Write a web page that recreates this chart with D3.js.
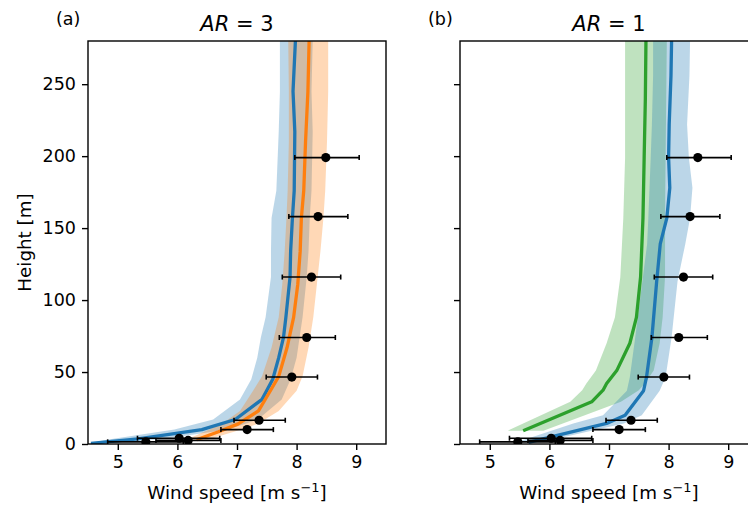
<!DOCTYPE html>
<html>
<head>
<meta charset="utf-8">
<script src="https://cdn.jsdelivr.net/npm/d3@7"></script>
<style>
  body { margin: 0; background: #fff; }
  svg { font-family: "DejaVu Sans", sans-serif; }
</style>
</head>
<body>
<div id="chart"></div>
<script>
// observations (same in both panels)
var obsHeight = [1.5, 2.5, 4, 10, 16.5, 46.5, 74, 116, 158, 199];
var obsSpeed  = [5.47, 6.18, 6.03, 7.17, 7.37, 7.92, 8.17, 8.25, 8.36, 8.49];
var obsLow    = [4.83, 5.64, 5.33, 6.73, 6.95, 7.49, 7.71, 7.76, 7.87, 7.97];
var obsHigh   = [6.10, 6.73, 6.71, 7.61, 7.81, 8.35, 8.65, 8.74, 8.86, 9.05];

// (a) AR = 3, blue run
var a3BlueH  = [0.5, 3.5, 10, 17, 31, 45, 60, 74, 88, 116, 134, 157, 176, 217, 245, 280];
var a3BlueU  = [4.55, 5.34, 6.41, 6.97, 7.42, 7.60, 7.70, 7.78, 7.82, 7.89, 7.90, 7.93, 7.96, 7.97, 7.94, 7.98];
var a3BlueLo = [4.50, 4.90, 5.95, 6.60, 7.05, 7.24, 7.34, 7.40, 7.48, 7.57, 7.57, 7.58, 7.66, 7.70, 7.72, 7.72];
var a3BlueHi = [4.75, 5.75, 6.85, 7.35, 7.75, 7.90, 8.00, 8.05, 8.10, 8.17, 8.20, 8.22, 8.25, 8.27, 8.25, 8.27];

// (a) AR = 3, orange run
var a3OrangeH  = [3, 8.5, 14, 23, 37, 47, 67, 88, 111, 134, 157, 176, 210, 245, 280];
var a3OrangeU  = [6.32, 6.69, 7.02, 7.36, 7.56, 7.70, 7.84, 7.95, 8.02, 8.06, 8.08, 8.12, 8.15, 8.19, 8.21];
var a3OrangeLo = [6.15, 6.45, 6.75, 7.05, 7.27, 7.42, 7.58, 7.70, 7.76, 7.80, 7.83, 7.85, 7.87, 7.87, 7.86];
var a3OrangeHi = [6.50, 6.95, 7.35, 7.70, 8.00, 8.10, 8.20, 8.28, 8.34, 8.40, 8.45, 8.48, 8.51, 8.53, 8.53];

// (b) AR = 1, green run
var a1GreenH  = [9.2, 29.3, 37.4, 42, 51, 70, 88, 116, 157, 199, 240, 280];
var a1GreenU  = [5.56, 6.71, 6.90, 6.96, 7.13, 7.35, 7.46, 7.53, 7.57, 7.59, 7.61, 7.62];
var a1GreenLo = [5.30, 6.35, 6.55, 6.62, 6.78, 6.96, 7.10, 7.19, 7.24, 7.27, 7.27, 7.27];
var a1GreenHi = [5.90, 7.20, 7.50, 7.60, 7.75, 7.85, 7.90, 7.94, 7.94, 7.95, 7.96, 7.97];

// (b) AR = 1, blue run
var a1BlueH  = [1.2, 14.3, 20, 37, 46.6, 74, 113, 139, 157, 178, 199, 222, 256, 280];
var a1BlueU  = [5.65, 6.96, 7.27, 7.58, 7.63, 7.72, 7.80, 7.86, 7.97, 8.02, 8.00, 8.01, 8.04, 8.05];
var a1BlueLo = [5.45, 6.40, 6.90, 7.30, 7.35, 7.44, 7.56, 7.64, 7.66, 7.68, 7.70, 7.72, 7.74, 7.74];
var a1BlueHi = [5.85, 7.25, 7.55, 7.85, 7.95, 8.05, 8.15, 8.28, 8.36, 8.40, 8.34, 8.31, 8.35, 8.36];

var xTicks = [5, 6, 7, 8, 9];
var yTicks = [0, 50, 100, 150, 200, 250];

var blue = "#1f77b4", orange = "#ff7f0e", green = "#2ca02c";

function zipSeries(h, u, lo, hi) {
    return h.map(function (d, i) { return { h: d, u: u[i], lo: lo[i], hi: hi[i] }; });
}

var svg = d3.select("#chart")
    .append("svg")
    .attr("width", 748)
    .attr("height", 505);

var panelW = 298, panelH = 403, panelTop = 41;

var y = d3.scaleLinear().domain([0, 280]).range([panelH, 0]);

function drawPanel(left, id, label, arText, series, showYLabels) {
    var x = d3.scaleLinear().domain([4.5, 9.5]).range([0, panelW]);

    var g = svg.append("g")
        .attr("transform", "translate(" + left + "," + panelTop + ")");

    g.append("clipPath").attr("id", "clip" + id)
        .append("rect").attr("width", panelW).attr("height", panelH);

    var plot = g.append("g").attr("clip-path", "url(#clip" + id + ")");

    var area = d3.area()
        .y(function (d) { return y(d.h); })
        .x0(function (d) { return x(d.lo); })
        .x1(function (d) { return x(d.hi); });

    var line = d3.line()
        .x(function (d) { return x(d.u); })
        .y(function (d) { return y(d.h); });

    // shaded spread first, then the mean lines
    series.forEach(function (s) {
        plot.append("path")
            .datum(s.data)
            .attr("d", area)
            .attr("fill", s.color)
            .attr("fill-opacity", 0.3);
    });
    series.forEach(function (s) {
        plot.append("path")
            .datum(s.data)
            .attr("d", line)
            .attr("fill", "none")
            .attr("stroke", s.color)
            .attr("stroke-width", 3.3)
            .attr("stroke-linejoin", "round");
    });

    // observations with error bars
    var obs = obsHeight.map(function (h, i) {
        return { h: h, u: obsSpeed[i], lo: obsLow[i], hi: obsHigh[i] };
    });
    var og = plot.append("g");
    og.selectAll(".bar").data(obs).enter().append("line")
        .attr("x1", function (d) { return x(d.lo); })
        .attr("x2", function (d) { return x(d.hi); })
        .attr("y1", function (d) { return y(d.h); })
        .attr("y2", function (d) { return y(d.h); })
        .attr("stroke", "black").attr("stroke-width", 1.6);
    ["lo", "hi"].forEach(function (k) {
        og.selectAll(".cap" + k).data(obs).enter().append("line")
            .attr("x1", function (d) { return x(d[k]); })
            .attr("x2", function (d) { return x(d[k]); })
            .attr("y1", function (d) { return y(d.h) - 2.5; })
            .attr("y2", function (d) { return y(d.h) + 2.5; })
            .attr("stroke", "black").attr("stroke-width", 1.6);
    });
    og.selectAll("circle").data(obs).enter().append("circle")
        .attr("cx", function (d) { return x(d.u); })
        .attr("cy", function (d) { return y(d.h); })
        .attr("r", 4.6)
        .attr("fill", "black");

    // axes
    var xAxis = g.append("g")
        .attr("transform", "translate(0," + panelH + ")")
        .call(d3.axisBottom(x).tickValues(xTicks).tickSize(6).tickPadding(6).tickFormat(d3.format("d")));
    var yAxis = g.append("g")
        .call(d3.axisLeft(y).tickValues(yTicks).tickSize(6).tickPadding(6)
            .tickFormat(showYLabels ? d3.format("d") : ""));
    [xAxis, yAxis].forEach(function (a) {
        a.select(".domain").remove();
        a.selectAll(".tick line").attr("stroke", "black").attr("stroke-width", 1.4);
        a.selectAll(".tick text").attr("fill", "black")
            .style("font-size", "17.5px").style("font-family", "DejaVu Sans");
    });

    // frame
    g.append("rect")
        .attr("width", panelW).attr("height", panelH)
        .attr("fill", "none").attr("stroke", "black").attr("stroke-width", 1.4);

    // titles
    var t = g.append("text")
        .attr("x", panelW / 2).attr("y", -10.5)
        .attr("text-anchor", "middle")
        .style("font-size", "21px");
    t.append("tspan").style("font-style", "oblique").text("AR");
    t.append("tspan").text(" = " + arText);

    g.append("text")
        .attr("x", -32).attr("y", -16.5)
        .style("font-size", "17.5px")
        .text(label);

    var xl = g.append("text")
        .attr("x", panelW / 2).attr("y", panelH + 55)
        .attr("text-anchor", "middle")
        .style("font-size", "18.3px");
    xl.append("tspan").text("Wind speed [m s");
    xl.append("tspan").attr("dy", -7).style("font-size", "13px").text("\u22121");
    xl.append("tspan").attr("dy", 7).text("]");

    if (showYLabels) {
        g.append("text")
            .attr("transform", "translate(-57," + (panelH / 2) + ") rotate(-90)")
            .attr("text-anchor", "middle")
            .style("font-size", "18.3px")
            .text("Height [m]");
    }
}

drawPanel(88, "a", "(a)", "3", [
    { color: blue, data: zipSeries(a3BlueH, a3BlueU, a3BlueLo, a3BlueHi) },
    { color: orange, data: zipSeries(a3OrangeH, a3OrangeU, a3OrangeLo, a3OrangeHi) }
], true);

drawPanel(460, "b", "(b)", "1", [
    { color: green, data: zipSeries(a1GreenH, a1GreenU, a1GreenLo, a1GreenHi) },
    { color: blue, data: zipSeries(a1BlueH, a1BlueU, a1BlueLo, a1BlueHi) }
], false);
</script>
</body>
</html>
